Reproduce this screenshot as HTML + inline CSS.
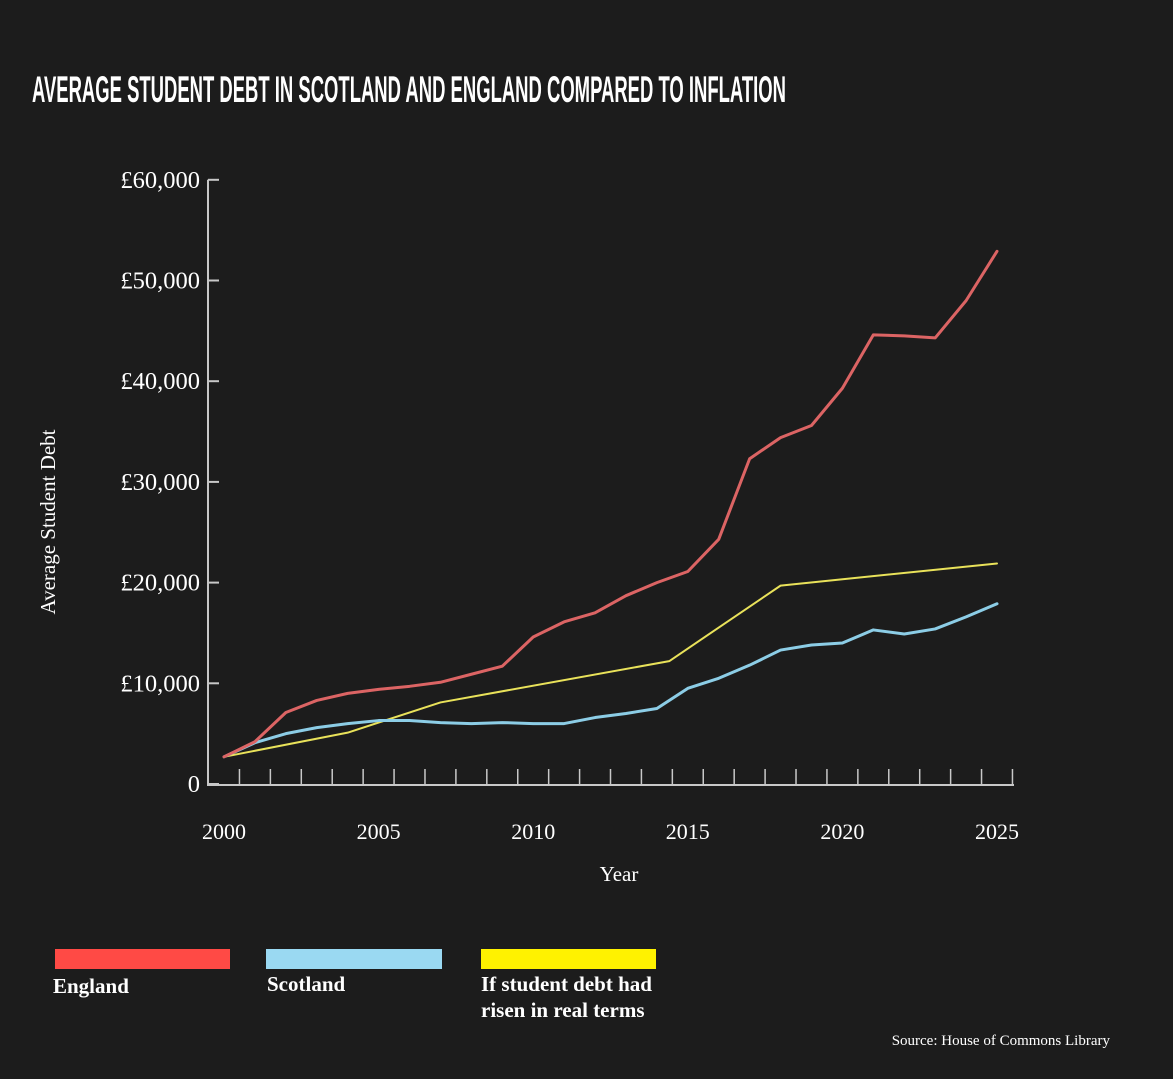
<!DOCTYPE html>
<html><head><meta charset="utf-8"><style>
html,body{margin:0;padding:0;background:#1c1c1c;}
svg{display:block;}
text{font-family:"Liberation Serif",serif;fill:#fff;}
</style></head><body>
<svg id="chart" width="1173" height="1079" viewBox="0 0 1173 1079">
<rect width="1173" height="1079" fill="#1c1c1c"/>
<text x="32" y="102" textLength="754" lengthAdjust="spacingAndGlyphs" style="font-family:'Liberation Sans',sans-serif;font-weight:bold;font-size:37px;">AVERAGE STUDENT DEBT IN SCOTLAND AND ENGLAND COMPARED TO INFLATION</text>
<g id="axes"></g>
<g id="series"></g>
<text transform="translate(55,522) rotate(-90)" text-anchor="middle" font-size="21">Average Student Debt</text>
<text x="619" y="881" text-anchor="middle" font-size="21">Year</text>
<rect x="55" y="949" width="175" height="20" fill="#ff4a45"/>
<rect x="266" y="949" width="176" height="20" fill="#9ad9f2"/>
<rect x="481" y="949" width="175" height="20" fill="#fff200"/>
<text x="53" y="993" font-size="21" font-weight="bold">England</text>
<text x="267" y="991" font-size="21" font-weight="bold">Scotland</text>
<text x="481" y="991" font-size="21" font-weight="bold">If student debt had</text>
<text x="481" y="1017" font-size="21" font-weight="bold">risen in real terms</text>
<text x="1110" y="1045" text-anchor="end" font-size="15">Source: House of Commons Library</text>
</svg>
<script>
const years = [2000,2001,2002,2003,2004,2005,2006,2007,2008,2009,2010,2011,2012,2013,2014,2015,2016,2017,2018,2019,2020,2021,2022,2023,2024,2025];
const england = [2700,4200,7100,8300,9000,9400,9700,10100,10900,11700,14600,16100,17000,18700,20000,21100,24300,32300,34400,35600,39300,44600,44500,44300,48000,52900];
const scotland = [2700,4100,5000,5600,6000,6300,6300,6100,6000,6100,6000,6000,6600,7000,7500,9500,10500,11800,13300,13800,14000,15300,14900,15400,16600,17900];
const inflationYears = [2000,2004,2007,2014.4,2018,2025];
const inflation = [2700,5100,8100,12200,19700,21900];
const yTicks = [0,10000,20000,30000,40000,50000,60000];
const yTickLabels = ["0","£10,000","£20,000","£30,000","£40,000","£50,000","£60,000"];
const xTickLabels = [2000,2005,2010,2015,2020,2025];

const NS = "http://www.w3.org/2000/svg";
const x = yr => 224 + (yr - 2000) * 30.92;
const y = v => 784 - v * 0.01007;
function mk(tag, attrs, parent){const e=document.createElementNS(NS,tag);for(const k in attrs)e.setAttribute(k,attrs[k]);parent.appendChild(e);return e;}
const axes = document.getElementById('axes');
const series = document.getElementById('series');
const ax = "#c8c8c8";
let yl = mk('line',{x1:208,y1:y(60000),x2:208,y2:785,stroke:ax,'stroke-width':2},axes);


let xl = mk('line',{x1:207,y1:785,x2:1014,y2:785,stroke:ax,'stroke-width':2},axes);


yTicks.forEach((v,i)=>{
  const t = mk('line',{x1:208,y1:y(v),x2:219,y2:y(v),stroke:ax,'stroke-width':2},axes);
  
  
  const l = mk('text',{x:200,y:y(v)+8,'text-anchor':'end','font-size':24.5},axes);
  l.textContent = yTickLabels[i];
  
  
});
for(let k=0;k<26;k++){
  const xx = x(2000.5+k);
  const t = mk('line',{x1:xx,y1:769,x2:xx,y2:785,stroke:ax,'stroke-width':1.5},axes);
  
  
}
xTickLabels.forEach(yr=>{
  const l = mk('text',{x:x(yr),y:839,'text-anchor':'middle','font-size':22},axes);
  l.textContent = yr;
  
  
});
function line(xs, vs, color, w, name){
  const p = mk('polyline',{points:xs.map((yr,i)=>x(yr)+','+y(vs[i])).join(' '),fill:'none',stroke:color,'stroke-width':w,'stroke-linejoin':'round','stroke-linecap':'round'},series);
  
  
}
line(inflationYears, inflation, '#e9e25a', 2, 'inflation-line');
line(years, scotland, '#8ccde6', 3, 'scotland-line');
line(years, england, '#dc6464', 3, 'england-line');
</script>
</body></html>
